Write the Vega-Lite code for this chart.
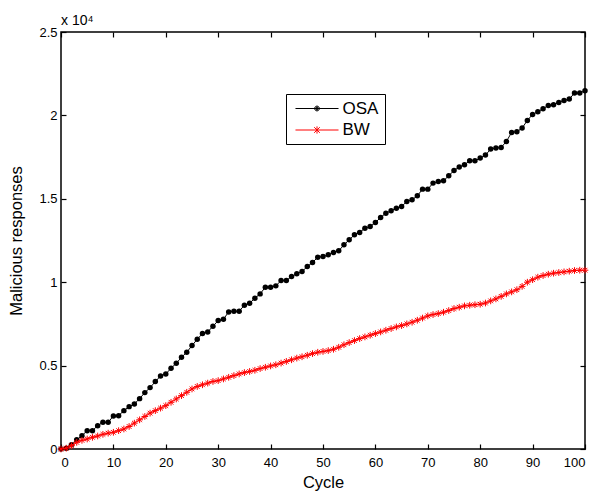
{
  "$schema": "https://vega.github.io/schema/vega-lite/v6.json",
  "width": 524,
  "height": 417,
  "autosize": "none",
  "padding": {"left": 61, "top": 32, "right": 11, "bottom": 44},
  "background": "white",
  "title": {"text": "x 10⁴", "anchor": "start", "frame": "group", "fontSize": 14, "fontWeight": "normal", "font": "Liberation Sans", "color": "black", "offset": -2},
  "config": {
    "view": {"stroke": "black", "strokeWidth": 1.5},
    "axis": {"grid": false, "domain": false, "offset": -5, "tickSize": 5, "zindex": 1, "tickColor": "black", "tickWidth": 1.2, "labelColor": "black", "labelFont": "Liberation Sans", "labelFontSize": 13, "titleFont": "Liberation Sans", "titleFontSize": 16.5, "titleFontWeight": "normal", "titleColor": "black"},
    "legend": {"labelFont": "Liberation Sans", "labelFontSize": 17, "labelColor": "black"}
  },
  "data": {"values": [
    {"c":0,"s":"OSA","v":0},{"c":1,"s":"OSA","v":50},{"c":2,"s":"OSA","v":250},{"c":3,"s":"OSA","v":550},{"c":4,"s":"OSA","v":800},{"c":5,"s":"OSA","v":1100},{"c":6,"s":"OSA","v":1100},{"c":7,"s":"OSA","v":1400},{"c":8,"s":"OSA","v":1600},{"c":9,"s":"OSA","v":1600},
    {"c":10,"s":"OSA","v":1980},{"c":11,"s":"OSA","v":2000},{"c":12,"s":"OSA","v":2300},{"c":13,"s":"OSA","v":2540},{"c":14,"s":"OSA","v":2700},{"c":15,"s":"OSA","v":3020},{"c":16,"s":"OSA","v":3380},{"c":17,"s":"OSA","v":3680},{"c":18,"s":"OSA","v":4040},{"c":19,"s":"OSA","v":4380},
    {"c":20,"s":"OSA","v":4500},{"c":21,"s":"OSA","v":4840},{"c":22,"s":"OSA","v":5140},{"c":23,"s":"OSA","v":5500},{"c":24,"s":"OSA","v":5800},{"c":25,"s":"OSA","v":6200},{"c":26,"s":"OSA","v":6580},{"c":27,"s":"OSA","v":6920},{"c":28,"s":"OSA","v":7020},{"c":29,"s":"OSA","v":7360},
    {"c":30,"s":"OSA","v":7700},{"c":31,"s":"OSA","v":7780},{"c":32,"s":"OSA","v":8220},{"c":33,"s":"OSA","v":8260},{"c":34,"s":"OSA","v":8260},{"c":35,"s":"OSA","v":8620},{"c":36,"s":"OSA","v":8740},{"c":37,"s":"OSA","v":9040},{"c":38,"s":"OSA","v":9300},{"c":39,"s":"OSA","v":9700},
    {"c":40,"s":"OSA","v":9700},{"c":41,"s":"OSA","v":9780},{"c":42,"s":"OSA","v":10100},{"c":43,"s":"OSA","v":10100},{"c":44,"s":"OSA","v":10340},{"c":45,"s":"OSA","v":10500},{"c":46,"s":"OSA","v":10640},{"c":47,"s":"OSA","v":10940},{"c":48,"s":"OSA","v":11180},{"c":49,"s":"OSA","v":11500},
    {"c":50,"s":"OSA","v":11540},{"c":51,"s":"OSA","v":11640},{"c":52,"s":"OSA","v":11780},{"c":53,"s":"OSA","v":11880},{"c":54,"s":"OSA","v":12240},{"c":55,"s":"OSA","v":12540},{"c":56,"s":"OSA","v":12840},{"c":57,"s":"OSA","v":12980},{"c":58,"s":"OSA","v":13240},{"c":59,"s":"OSA","v":13340},
    {"c":60,"s":"OSA","v":13580},{"c":61,"s":"OSA","v":13880},{"c":62,"s":"OSA","v":14140},{"c":63,"s":"OSA","v":14280},{"c":64,"s":"OSA","v":14440},{"c":65,"s":"OSA","v":14540},{"c":66,"s":"OSA","v":14840},{"c":67,"s":"OSA","v":14940},{"c":68,"s":"OSA","v":15180},{"c":69,"s":"OSA","v":15580},
    {"c":70,"s":"OSA","v":15580},{"c":71,"s":"OSA","v":15940},{"c":72,"s":"OSA","v":16040},{"c":73,"s":"OSA","v":16080},{"c":74,"s":"OSA","v":16380},{"c":75,"s":"OSA","v":16700},{"c":76,"s":"OSA","v":16900},{"c":77,"s":"OSA","v":17040},{"c":78,"s":"OSA","v":17280},{"c":79,"s":"OSA","v":17280},
    {"c":80,"s":"OSA","v":17440},{"c":81,"s":"OSA","v":17620},{"c":82,"s":"OSA","v":17980},{"c":83,"s":"OSA","v":18040},{"c":84,"s":"OSA","v":18080},{"c":85,"s":"OSA","v":18440},{"c":86,"s":"OSA","v":18980},{"c":87,"s":"OSA","v":19020},{"c":88,"s":"OSA","v":19240},{"c":89,"s":"OSA","v":19700},
    {"c":90,"s":"OSA","v":20060},{"c":91,"s":"OSA","v":20220},{"c":92,"s":"OSA","v":20400},{"c":93,"s":"OSA","v":20600},{"c":94,"s":"OSA","v":20640},{"c":95,"s":"OSA","v":20780},{"c":96,"s":"OSA","v":20900},{"c":97,"s":"OSA","v":20980},{"c":98,"s":"OSA","v":21340},{"c":99,"s":"OSA","v":21340},
    {"c":100,"s":"OSA","v":21480},
    {"c":0,"s":"BW","v":0},{"c":1,"s":"BW","v":50},{"c":2,"s":"BW","v":200},{"c":3,"s":"BW","v":400},{"c":4,"s":"BW","v":520},{"c":5,"s":"BW","v":600},{"c":6,"s":"BW","v":700},{"c":7,"s":"BW","v":780},{"c":8,"s":"BW","v":880},{"c":9,"s":"BW","v":950},
    {"c":10,"s":"BW","v":1000},{"c":11,"s":"BW","v":1100},{"c":12,"s":"BW","v":1200},{"c":13,"s":"BW","v":1350},{"c":14,"s":"BW","v":1550},{"c":15,"s":"BW","v":1750},{"c":16,"s":"BW","v":1950},{"c":17,"s":"BW","v":2150},{"c":18,"s":"BW","v":2300},{"c":19,"s":"BW","v":2450},
    {"c":20,"s":"BW","v":2600},{"c":21,"s":"BW","v":2800},{"c":22,"s":"BW","v":3000},{"c":23,"s":"BW","v":3200},{"c":24,"s":"BW","v":3400},{"c":25,"s":"BW","v":3600},{"c":26,"s":"BW","v":3750},{"c":27,"s":"BW","v":3850},{"c":28,"s":"BW","v":3950},{"c":29,"s":"BW","v":4050},
    {"c":30,"s":"BW","v":4100},{"c":31,"s":"BW","v":4200},{"c":32,"s":"BW","v":4300},{"c":33,"s":"BW","v":4400},{"c":34,"s":"BW","v":4500},{"c":35,"s":"BW","v":4580},{"c":36,"s":"BW","v":4650},{"c":37,"s":"BW","v":4720},{"c":38,"s":"BW","v":4820},{"c":39,"s":"BW","v":4900},
    {"c":40,"s":"BW","v":4980},{"c":41,"s":"BW","v":5050},{"c":42,"s":"BW","v":5150},{"c":43,"s":"BW","v":5250},{"c":44,"s":"BW","v":5350},{"c":45,"s":"BW","v":5450},{"c":46,"s":"BW","v":5530},{"c":47,"s":"BW","v":5620},{"c":48,"s":"BW","v":5720},{"c":49,"s":"BW","v":5800},
    {"c":50,"s":"BW","v":5850},{"c":51,"s":"BW","v":5900},{"c":52,"s":"BW","v":5980},{"c":53,"s":"BW","v":6100},{"c":54,"s":"BW","v":6250},{"c":55,"s":"BW","v":6380},{"c":56,"s":"BW","v":6500},{"c":57,"s":"BW","v":6620},{"c":58,"s":"BW","v":6720},{"c":59,"s":"BW","v":6820},
    {"c":60,"s":"BW","v":6920},{"c":61,"s":"BW","v":7020},{"c":62,"s":"BW","v":7120},{"c":63,"s":"BW","v":7220},{"c":64,"s":"BW","v":7320},{"c":65,"s":"BW","v":7400},{"c":66,"s":"BW","v":7500},{"c":67,"s":"BW","v":7600},{"c":68,"s":"BW","v":7720},{"c":69,"s":"BW","v":7850},
    {"c":70,"s":"BW","v":7980},{"c":71,"s":"BW","v":8060},{"c":72,"s":"BW","v":8120},{"c":73,"s":"BW","v":8200},{"c":74,"s":"BW","v":8300},{"c":75,"s":"BW","v":8420},{"c":76,"s":"BW","v":8500},{"c":77,"s":"BW","v":8580},{"c":78,"s":"BW","v":8620},{"c":79,"s":"BW","v":8650},
    {"c":80,"s":"BW","v":8680},{"c":81,"s":"BW","v":8750},{"c":82,"s":"BW","v":8880},{"c":83,"s":"BW","v":9000},{"c":84,"s":"BW","v":9150},{"c":85,"s":"BW","v":9300},{"c":86,"s":"BW","v":9420},{"c":87,"s":"BW","v":9550},{"c":88,"s":"BW","v":9750},{"c":89,"s":"BW","v":10000},
    {"c":90,"s":"BW","v":10150},{"c":91,"s":"BW","v":10300},{"c":92,"s":"BW","v":10400},{"c":93,"s":"BW","v":10480},{"c":94,"s":"BW","v":10540},{"c":95,"s":"BW","v":10580},{"c":96,"s":"BW","v":10620},{"c":97,"s":"BW","v":10660},{"c":98,"s":"BW","v":10700},{"c":99,"s":"BW","v":10720},
    {"c":100,"s":"BW","v":10720}
  ]},
  "resolve": {"axis": {"x": "independent", "y": "independent"}},
  "layer": [
    {
      "transform": [{"filter": "datum.s === 'OSA'"}],
      "mark": {"type": "line", "color": "black", "strokeWidth": 1},
      "encoding": {
        "x": {"field": "c", "type": "quantitative", "scale": {"domain": [0, 100], "nice": false}, "axis": {"title": "Cycle", "orient": "bottom", "values": [0,10,20,30,40,50,60,70,80,90,100], "labelPadding": 7, "titlePadding": 5}},
        "y": {"field": "v", "type": "quantitative", "scale": {"domain": [0, 25000], "nice": false}, "axis": {"title": "Malicious responses", "orient": "left", "values": [0,5000,10000,15000,20000,25000], "labelExpr": "datum.value / 10000", "labelPadding": 4, "titlePadding": 14}}
      }
    },
    {
      "transform": [{"filter": "datum.s === 'OSA'"}],
      "mark": {"type": "point", "shape": "circle", "filled": true, "color": "black", "size": 30, "opacity": 1},
      "encoding": {
        "x": {"field": "c", "type": "quantitative", "axis": null},
        "y": {"field": "v", "type": "quantitative", "axis": null}
      }
    },
    {
      "transform": [{"filter": "datum.s === 'BW'"}],
      "mark": {"type": "line", "color": "red", "strokeWidth": 1},
      "encoding": {
        "x": {"field": "c", "type": "quantitative", "axis": {"orient": "top", "title": null, "labels": false, "values": [0,10,20,30,40,50,60,70,80,90,100]}},
        "y": {"field": "v", "type": "quantitative", "axis": {"orient": "right", "title": null, "labels": false, "values": [0,5000,10000,15000,20000,25000]}}
      }
    },
    {
      "transform": [{"filter": "datum.s === 'BW'"}],
      "mark": {"type": "point", "shape": "M-1,0H1M0,-1V1M-0.7,-0.7L0.7,0.7M-0.7,0.7L0.7,-0.7", "filled": false, "color": "red", "size": 45, "strokeWidth": 1, "opacity": 1},
      "encoding": {
        "x": {"field": "c", "type": "quantitative", "axis": null},
        "y": {"field": "v", "type": "quantitative", "axis": null}
      }
    },
    {
      "transform": [{"filter": "false"}],
      "mark": {"type": "point", "filled": false, "opacity": 1, "strokeWidth": 1},
      "encoding": {
        "color": {"field": "s", "type": "nominal", "scale": {"domain": ["OSA", "BW"], "range": ["black", "red"]}, "legend": {"title": null, "orient": "none", "legendX": 225, "legendY": 62, "strokeColor": "black", "fillColor": "white", "padding": 6, "symbolSize": 256, "symbolOffset": 16.5, "labelOffset": 17, "rowPadding": 3.5, "symbolStrokeWidth": 1}},
        "shape": {"field": "s", "type": "nominal", "scale": {"domain": ["OSA", "BW"], "range": ["M-2.69,0H2.69M0.3,0A0.3,0.3 0 1,1 -0.3,0A0.3,0.3 0 1,1 0.3,0M0.18,0A0.18,0.18 0 1,1 -0.18,0A0.18,0.18 0 1,1 0.18,0M0.07,0A0.07,0.07 0 1,1 -0.07,0A0.07,0.07 0 1,1 0.07,0", "M-2.69,0H2.69M0,-0.45V0.45M-0.35,-0.35L0.35,0.35M-0.35,0.35L0.35,-0.35"]}, "legend": {"title": null, "orient": "none", "legendX": 225, "legendY": 62}}
      }
    }
  ]
}
